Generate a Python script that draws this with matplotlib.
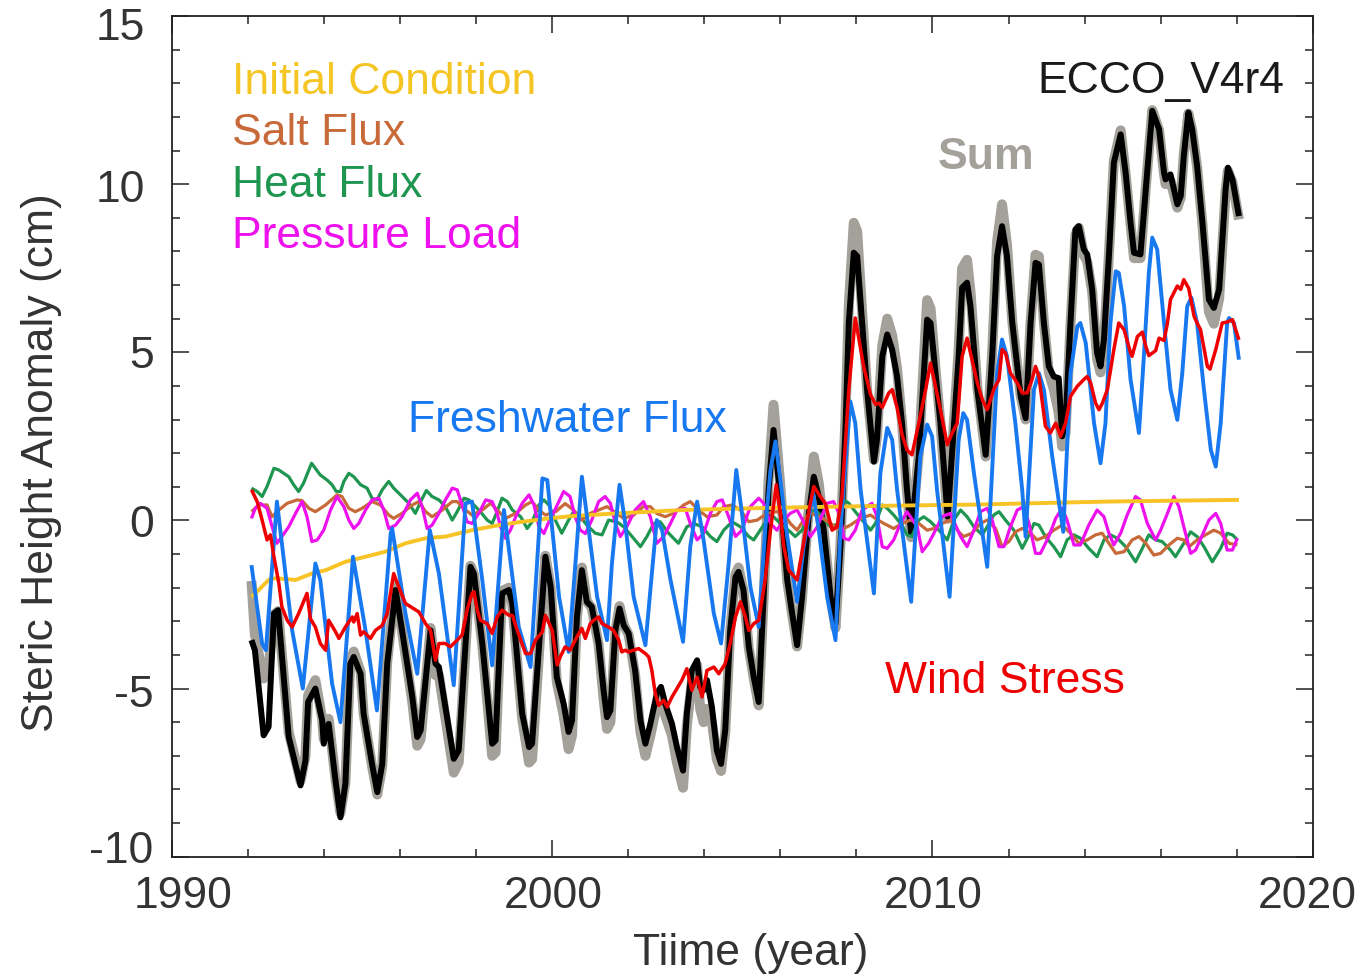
import matplotlib
matplotlib.use("Agg")
import matplotlib.pyplot as plt
from matplotlib.ticker import MultipleLocator

plt.rcParams['font.family'] = ['Liberation Sans', 'DejaVu Sans']
plt.rcParams['axes.unicode_minus'] = False

# ---------------- data (year, cm) ----------------
sum_years = [
    1992.09, 1992.18, 1992.41, 1992.54, 1992.68, 1992.79,
    1993.07, 1993.38, 1993.51, 1993.58, 1993.77, 1993.95, 1993.99,
    1994.12, 1994.30, 1994.43, 1994.56, 1994.69, 1994.78, 1994.96,
    1995.04, 1995.26, 1995.40, 1995.53, 1995.66, 1995.88,
    1996.05, 1996.32, 1996.45, 1996.54, 1996.80, 1996.93,
    1997.02, 1997.41, 1997.54, 1997.85, 1997.94,
    1998.16, 1998.42, 1998.51, 1998.68, 1998.86, 1998.95,
    1999.21, 1999.39, 1999.47, 1999.82, 1999.96,
    2000.12, 2000.30, 2000.43, 2000.52, 2000.65, 2000.78, 2000.91,
    2001.04, 2001.22, 2001.35, 2001.44, 2001.53, 2001.66, 2001.77, 2001.88,
    2002.01, 2002.18, 2002.32, 2002.45, 2002.58, 2002.75, 2002.86, 2002.97,
    2003.15, 2003.28, 2003.44, 2003.54, 2003.67, 2003.81, 2003.89, 2003.98,
    2004.07, 2004.20, 2004.33, 2004.44, 2004.55, 2004.68, 2004.82, 2004.90,
    2005.03, 2005.17, 2005.30, 2005.43, 2005.56, 2005.69, 2005.82,
    2006.00, 2006.18, 2006.31, 2006.44, 2006.57, 2006.75, 2006.88,
    2007.01, 2007.14, 2007.32, 2007.45, 2007.58, 2007.71, 2007.80, 2007.93,
    2008.02, 2008.15, 2008.28, 2008.46, 2008.54, 2008.68, 2008.81, 2008.94,
    2009.07, 2009.20, 2009.33, 2009.44, 2009.64, 2009.86, 2009.95,
    2010.08, 2010.21, 2010.40, 2010.69, 2010.78, 2010.91,
    2011.00, 2011.18, 2011.40, 2011.57, 2011.70, 2011.83, 2011.96,
    2012.10, 2012.32, 2012.45, 2012.58, 2012.71, 2012.80, 2012.93,
    2013.06, 2013.19, 2013.32, 2013.41, 2013.50, 2013.63, 2013.76, 2013.85, 2013.98,
    2014.07, 2014.20, 2014.33, 2014.42, 2014.51, 2014.64, 2014.77, 2014.95,
    2015.08, 2015.21, 2015.30, 2015.47, 2015.61, 2015.78, 2015.96,
    2016.09, 2016.13, 2016.26, 2016.44, 2016.53, 2016.61, 2016.73, 2016.83, 2016.96,
    2017.10, 2017.27, 2017.40, 2017.54, 2017.71, 2017.77, 2017.89,
    2018.06,
]
# ECCO total (black)
total_values = [
    -3.56, -3.86, -6.39, -6.14, -2.77, -2.67,
    -6.44, -7.88, -7.14, -5.40, -5.00, -5.95, -6.64,
    -6.05, -7.73, -8.83, -7.83, -4.26, -4.06, -4.56,
    -5.75, -7.24, -8.08, -7.24, -4.26, -2.07,
    -3.27, -5.25, -6.44, -6.24, -3.27, -4.26,
    -4.36, -7.09, -6.84, -1.38, -1.58,
    -3.66, -6.64, -6.54, -2.17, -2.07, -2.47,
    -5.75, -6.74, -6.64, -1.08, -1.97,
    -4.66, -5.45, -6.29, -5.95, -2.87, -1.48, -2.42,
    -2.57, -3.66, -5.05, -5.85, -5.65, -3.27, -2.62, -3.12,
    -3.36, -4.46, -5.95, -6.64, -6.05, -5.15, -4.95, -5.45,
    -6.05, -6.74, -7.44, -5.75, -4.46, -4.16, -4.95, -5.05,
    -4.75, -5.55, -6.84, -7.24, -6.24, -3.27, -1.68, -1.53,
    -2.07, -3.76, -4.66, -5.40, -2.27, 0.91, 2.69,
    0.71, -1.77, -2.77, -3.71, -2.27, 0.21, 1.30,
    0.71, -0.29, -2.27, -3.07, -0.78, 2.69, 5.87, 7.96,
    7.86, 5.87, 3.89, 1.75, 2.40, 4.88, 5.53, 5.08,
    4.28, 2.89, 0.91, -0.39, 1.90, 5.97, 5.87,
    4.38, 2.89, 0.11, 4.88, 6.92, 7.07,
    6.37, 3.89, 1.95, 4.88, 7.86, 8.75, 7.86,
    5.87, 3.69, 3.04, 5.87, 7.66, 7.61, 5.87,
    4.58, 4.28, 4.23, 2.50, 2.89, 5.87, 8.65, 8.75, 8.06,
    7.91, 6.87, 4.98, 4.58, 5.38, 7.86, 10.64, 11.48,
    10.34, 8.85, 7.96, 7.91, 9.85, 12.18, 11.63,
    10.34, 10.14, 10.29, 9.40, 9.65, 10.84, 12.13, 11.63, 10.54,
    8.85, 6.57, 6.32, 6.87, 9.85, 10.49, 10.14,
    9.05,
]
# Sum of contributions (gray)
sum_values = [
    -1.80, -3.40, -4.70, -4.40, -2.80, -2.70,
    -6.30, -7.75, -7.00, -5.20, -4.75, -5.90, -6.50,
    -5.90, -7.70, -8.70, -7.80, -4.10, -3.90, -4.50,
    -5.75, -7.30, -8.15, -7.30, -4.20, -1.90,
    -3.30, -5.40, -6.70, -6.50, -3.20, -4.60,
    -4.60, -7.50, -7.20, -1.35, -1.60,
    -3.70, -7.00, -6.90, -2.10, -2.00, -2.50,
    -5.90, -7.20, -7.10, -1.05, -2.00,
    -4.80, -5.80, -6.80, -6.40, -2.90, -1.40, -2.40,
    -2.60, -3.70, -5.30, -6.20, -6.00, -3.30, -2.55, -3.10,
    -3.40, -4.60, -6.30, -7.00, -6.40, -5.50, -5.20, -5.80,
    -6.40, -7.20, -7.95, -6.10, -4.80, -4.30, -5.60, -6.00,
    -5.60, -6.00, -7.10, -7.45, -6.30, -3.30, -1.60, -1.40,
    -2.10, -3.80, -4.70, -5.50, -2.30, 1.20, 3.44,
    1.00, -1.80, -2.80, -3.75, -2.30, 0.40, 1.90,
    1.10, -0.30, -2.30, -3.20, -0.70, 3.00, 6.40, 8.85,
    8.60, 6.20, 3.90, 1.80, 2.50, 5.20, 6.00, 5.50,
    4.50, 2.90, 0.85, -0.50, 2.00, 6.55, 6.30,
    4.50, 2.90, 0.05, 5.10, 7.50, 7.75,
    6.80, 3.95, 1.90, 5.00, 8.30, 9.40, 8.20,
    5.90, 3.70, 3.00, 5.90, 7.90, 7.85, 5.90,
    4.40, 3.90, 3.20, 2.20, 2.60, 5.80, 8.50, 8.70, 7.90,
    7.70, 6.80, 4.80, 4.40, 5.30, 7.90, 10.70, 11.60,
    10.30, 8.80, 7.80, 7.80, 9.90, 12.20, 11.60,
    10.30, 10.00, 10.10, 9.30, 9.60, 10.90, 12.10, 11.60, 10.50,
    8.80, 6.20, 5.85, 6.60, 9.80, 10.40, 10.05,
    8.95,
]

freshwater = [
    (1992.09, -1.33), (1992.37, -3.66), (1992.47, -3.86), (1992.76, 0.56),
    (1993.16, -3.27), (1993.44, -5.00), (1993.77, -1.28), (1993.90, -1.77),
    (1994.21, -4.85), (1994.43, -6.00), (1994.76, -1.08), (1995.09, -3.27),
    (1995.39, -5.65), (1995.75, -0.39), (1995.79, -0.24), (1996.14, -2.77),
    (1996.45, -4.56), (1996.78, -0.29), (1997.02, -1.58), (1997.41, -4.90),
    (1997.72, 0.51), (1997.89, 0.56), (1998.16, -1.77), (1998.42, -4.31),
    (1998.73, 0.31), (1999.12, -3.17), (1999.43, -4.36), (1999.74, 1.25),
    (1999.87, 1.20), (2000.18, -2.27), (2000.43, -3.91), (2000.61, -1.28),
    (2000.78, 1.30), (2000.96, -0.29), (2001.18, -2.27), (2001.44, -3.56),
    (2001.57, -1.28), (2001.77, 1.06), (2001.92, -0.09), (2002.14, -2.27),
    (2002.45, -3.71), (2002.62, -1.58), (2002.75, 0.01), (2002.89, -0.29),
    (2003.11, -1.77), (2003.44, -3.61), (2003.63, -0.78), (2003.81, 0.56),
    (2003.98, -0.58), (2004.25, -2.77), (2004.44, -3.66), (2004.64, -1.28),
    (2004.84, 1.50), (2004.99, 0.21), (2005.21, -1.97), (2005.43, -3.17),
    (2005.60, -0.29), (2005.74, 1.50), (2005.87, 2.35), (2006.00, 1.20),
    (2006.18, -0.48), (2006.44, -2.42), (2006.61, -0.78), (2006.86, 0.81),
    (2007.01, -0.29), (2007.23, -2.27), (2007.45, -3.56), (2007.58, -0.29),
    (2007.84, 3.54), (2007.97, 2.89), (2008.11, 0.91), (2008.46, -2.17),
    (2008.63, 1.41), (2008.81, 2.75), (2008.94, 2.40), (2009.07, 0.91),
    (2009.44, -2.42), (2009.68, 1.90), (2009.86, 2.85), (2009.99, 2.50),
    (2010.12, 0.91), (2010.45, -2.27), (2010.69, 2.40), (2010.81, 3.19),
    (2010.91, 2.99), (2011.09, 1.41), (2011.44, -1.38), (2011.70, 4.38),
    (2011.83, 5.38), (2011.96, 4.88), (2012.18, 2.89), (2012.36, 0.91),
    (2012.45, -0.49), (2012.67, 3.89), (2012.80, 4.38), (2012.93, 3.89),
    (2013.15, 1.90), (2013.44, -0.34), (2013.63, 4.38), (2013.81, 5.77),
    (2013.89, 5.87), (2014.03, 5.28), (2014.25, 2.89), (2014.42, 1.70),
    (2014.55, 2.89), (2014.68, 5.87), (2014.82, 7.41), (2014.90, 7.36),
    (2015.04, 6.37), (2015.21, 4.19), (2015.43, 2.60), (2015.56, 4.88),
    (2015.69, 7.36), (2015.78, 8.41), (2015.91, 8.06), (2016.09, 5.87),
    (2016.26, 3.89), (2016.44, 2.99), (2016.57, 4.38), (2016.70, 6.37),
    (2016.81, 6.62), (2016.96, 5.87), (2017.14, 3.89), (2017.32, 2.10),
    (2017.45, 1.60), (2017.58, 2.89), (2017.75, 5.87), (2017.80, 6.02),
    (2017.93, 5.87), (2018.06, 4.78),
]

wind = [
    (1992.09, 0.91), (1992.24, 0.56), (1992.37, 0.01), (1992.50, -0.58), (1992.59, -0.43),
    (1992.68, -1.08), (1992.81, -1.87), (1992.89, -2.57), (1993.03, -2.97), (1993.16, -3.17),
    (1993.33, -2.77), (1993.55, -2.17), (1993.64, -2.92), (1993.77, -3.17), (1993.90, -3.66),
    (1994.04, -3.86), (1994.12, -2.97), (1994.30, -3.31), (1994.39, -3.51), (1994.56, -3.17),
    (1994.74, -2.87), (1994.78, -3.02), (1994.87, -2.77), (1994.96, -3.41), (1995.04, -3.31),
    (1995.22, -3.51), (1995.35, -3.27), (1995.53, -3.12), (1995.66, -2.77), (1995.83, -1.58),
    (1995.96, -1.97), (1996.14, -2.47), (1996.49, -2.72), (1996.67, -3.07), (1996.80, -3.27),
    (1996.93, -4.16), (1997.02, -3.66), (1997.19, -3.66), (1997.32, -3.76), (1997.50, -3.56),
    (1997.63, -3.41), (1997.76, -2.67), (1997.89, -2.17), (1997.94, -2.12), (1998.03, -2.67),
    (1998.11, -2.97), (1998.29, -3.07), (1998.42, -3.36), (1998.55, -2.87), (1998.68, -2.67),
    (1998.86, -2.82), (1998.95, -2.82), (1999.08, -3.27), (1999.30, -3.96), (1999.43, -3.96),
    (1999.56, -3.56), (1999.74, -3.31), (1999.82, -2.82), (2000.00, -3.27), (2000.13, -4.30),
    (2000.21, -4.06), (2000.34, -3.76), (2000.47, -3.86), (2000.65, -3.46), (2000.78, -3.21),
    (2000.87, -3.51), (2001.00, -3.07), (2001.09, -2.97), (2001.22, -2.87), (2001.31, -3.07),
    (2001.48, -3.17), (2001.61, -3.27), (2001.75, -3.56), (2001.83, -3.91), (2001.92, -3.86),
    (2002.01, -3.91), (2002.14, -3.86), (2002.27, -3.81), (2002.45, -3.96), (2002.54, -4.06),
    (2002.62, -4.46), (2002.71, -5.15), (2002.80, -5.50), (2002.93, -5.35), (2003.02, -5.55),
    (2003.15, -5.25), (2003.28, -5.00), (2003.41, -4.75), (2003.54, -4.41), (2003.67, -5.05),
    (2003.81, -4.66), (2003.94, -5.25), (2004.07, -4.46), (2004.25, -4.36), (2004.38, -4.56),
    (2004.55, -4.26), (2004.68, -3.66), (2004.82, -2.87), (2004.95, -2.42), (2005.08, -2.87),
    (2005.17, -3.27), (2005.30, -3.07), (2005.43, -2.97), (2005.60, -1.77), (2005.74, -0.29),
    (2005.89, 1.06), (2006.00, 0.21), (2006.09, -0.78), (2006.22, -1.48), (2006.44, -1.77),
    (2006.61, -0.68), (2006.77, 0.41), (2006.88, 1.01), (2007.05, 0.71), (2007.18, 0.51),
    (2007.27, 0.11), (2007.36, -0.29), (2007.49, -0.19), (2007.62, 0.71), (2007.80, 3.89),
    (2007.97, 6.02), (2008.19, 4.58), (2008.37, 3.74), (2008.50, 3.45), (2008.59, 3.49),
    (2008.68, 3.36), (2008.85, 3.79), (2008.94, 3.89), (2009.07, 3.35), (2009.20, 2.55),
    (2009.33, 2.10), (2009.46, 1.95), (2009.64, 2.89), (2009.82, 3.89), (2009.95, 4.68),
    (2010.08, 3.99), (2010.21, 3.29), (2010.39, 2.25), (2010.52, 2.60), (2010.65, 2.89),
    (2010.78, 4.88), (2010.91, 5.42), (2011.00, 4.98), (2011.18, 4.09), (2011.31, 3.59),
    (2011.44, 3.29), (2011.61, 3.89), (2011.75, 4.19), (2011.83, 5.08), (2011.92, 4.98),
    (2012.05, 4.38), (2012.23, 4.09), (2012.36, 3.79), (2012.49, 3.79), (2012.62, 4.19),
    (2012.71, 4.58), (2012.80, 4.28), (2012.97, 2.80), (2013.10, 2.60), (2013.24, 2.89),
    (2013.37, 2.50), (2013.50, 2.89), (2013.63, 3.69), (2013.81, 3.99), (2013.98, 4.19),
    (2014.07, 4.28), (2014.16, 4.09), (2014.29, 3.49), (2014.38, 3.29), (2014.47, 3.49),
    (2014.60, 3.89), (2014.77, 5.08), (2014.90, 5.87), (2015.04, 5.67), (2015.21, 4.98),
    (2015.25, 4.88), (2015.39, 5.47), (2015.52, 5.60), (2015.61, 5.18), (2015.69, 4.90),
    (2015.87, 5.05), (2015.96, 5.42), (2016.09, 5.35), (2016.18, 5.87), (2016.26, 6.57),
    (2016.44, 6.97), (2016.53, 6.87), (2016.61, 7.16), (2016.74, 6.90), (2016.88, 6.07),
    (2016.96, 5.87), (2017.05, 5.67), (2017.23, 4.58), (2017.30, 4.50), (2017.45, 5.08),
    (2017.62, 5.87), (2017.75, 5.90), (2017.89, 5.97), (2018.06, 5.37),
]

initial = [
    (1992.09, -2.27), (1992.28, -2.07), (1992.54, -1.77), (1992.72, -1.72), (1993.25, -1.77),
    (1993.68, -1.58), (1994.04, -1.48), (1994.56, -1.23), (1995.26, -1.03), (1995.61, -0.93),
    (1996.14, -0.68), (1996.67, -0.53), (1997.19, -0.48), (1997.89, -0.29), (1998.60, -0.14),
    (1999.21, -0.04), (1999.91, 0.06), (2000.53, 0.13), (2001.70, 0.21), (2003.46, 0.31),
    (2005.21, 0.36), (2007.00, 0.40), (2009.00, 0.44), (2011.09, 0.47), (2013.00, 0.52),
    (2014.60, 0.56), (2016.50, 0.59), (2018.06, 0.61),
]

heat = [
    (1992.09, 0.96), (1992.24, 0.86), (1992.37, 0.71), (1992.50, 1.01), (1992.68, 1.55),
    (1992.81, 1.50), (1992.94, 1.40), (1993.07, 1.30), (1993.20, 1.06), (1993.33, 0.86),
    (1993.46, 1.11), (1993.67, 1.70), (1993.77, 1.55), (1993.90, 1.35), (1994.08, 1.20),
    (1994.21, 1.06), (1994.32, 0.86), (1994.43, 0.86), (1994.52, 1.16), (1994.65, 1.40),
    (1994.78, 1.30), (1994.96, 1.06), (1995.13, 0.96), (1995.26, 0.66), (1995.39, 0.61),
    (1995.53, 0.91), (1995.70, 1.16), (1995.83, 0.96), (1996.01, 0.76), (1996.23, 0.51),
    (1996.40, 0.21), (1996.54, 0.56), (1996.69, 0.89), (1996.84, 0.71), (1997.02, 0.61),
    (1997.19, 0.41), (1997.37, 0.01), (1997.50, 0.26), (1997.68, 0.66), (1997.81, 0.61),
    (1997.94, 0.46), (1998.11, 0.26), (1998.29, 0.01), (1998.42, -0.09), (1998.55, 0.26),
    (1998.68, 0.66), (1998.82, 0.56), (1998.95, 0.31), (1999.17, 0.11), (1999.34, -0.24),
    (1999.47, -0.04), (1999.65, 0.46), (1999.78, 0.61), (1999.91, 0.46), (2000.08, 0.01),
    (2000.25, -0.38), (2000.43, 0.01), (2000.56, 0.26), (2000.74, 0.11), (2000.91, -0.14),
    (2001.13, -0.38), (2001.31, -0.43), (2001.48, 0.01), (2001.70, -0.04), (2001.88, -0.19),
    (2002.10, -0.48), (2002.32, -0.78), (2002.49, -0.48), (2002.67, -0.09), (2002.84, -0.04),
    (2003.06, -0.38), (2003.32, -0.68), (2003.54, -0.19), (2003.72, -0.09), (2003.94, -0.19),
    (2004.16, -0.48), (2004.33, -0.63), (2004.51, -0.29), (2004.73, -0.04), (2004.95, -0.19),
    (2005.17, -0.48), (2005.30, -0.58), (2005.47, -0.29), (2005.65, 0.01), (2005.82, 0.11),
    (2006.04, -0.14), (2006.26, -0.34), (2006.39, -0.48), (2006.57, -0.29), (2006.75, 0.21),
    (2006.92, 0.31), (2007.10, 0.11), (2007.32, -0.19), (2007.54, -0.09), (2007.67, 0.61),
    (2007.80, 0.51), (2007.97, 0.26), (2008.15, 0.01), (2008.37, -0.29), (2008.50, -0.09),
    (2008.68, 0.46), (2008.81, 0.36), (2008.98, 0.16), (2009.20, -0.14), (2009.33, -0.43),
    (2009.46, -0.48), (2009.64, 0.01), (2009.77, 0.11), (2009.95, -0.04), (2010.17, -0.29),
    (2010.39, -0.58), (2010.56, 0.01), (2010.74, 0.31), (2010.91, 0.11), (2011.09, -0.19),
    (2011.31, -0.43), (2011.44, -0.19), (2011.61, 0.16), (2011.75, 0.26), (2011.92, 0.01),
    (2012.14, -0.29), (2012.36, -0.83), (2012.54, -0.43), (2012.67, -0.09), (2012.80, -0.14),
    (2012.97, -0.48), (2013.19, -0.78), (2013.37, -1.08), (2013.54, -0.58), (2013.72, -0.43),
    (2013.89, -0.53), (2014.11, -0.83), (2014.33, -1.08), (2014.51, -0.58), (2014.68, -0.43),
    (2014.86, -0.53), (2015.08, -0.78), (2015.34, -1.23), (2015.52, -0.83), (2015.69, -0.43),
    (2015.87, -0.58), (2016.04, -0.63), (2016.26, -0.88), (2016.39, -1.08), (2016.61, -0.68),
    (2016.79, -0.34), (2016.96, -0.48), (2017.14, -0.78), (2017.36, -1.23), (2017.58, -0.83),
    (2017.75, -0.38), (2017.89, -0.43), (2018.02, -0.58),
]

salt = [
    (1992.09, 0.26), (1992.28, 0.46), (1992.50, 0.46), (1992.63, 0.11), (1992.81, 0.31),
    (1993.03, 0.51), (1993.29, 0.61), (1993.42, 0.59), (1993.60, 0.36), (1993.77, 0.26),
    (1994.04, 0.46), (1994.34, 0.76), (1994.47, 0.71), (1994.65, 0.36), (1994.82, 0.26),
    (1995.00, 0.36), (1995.26, 0.56), (1995.48, 0.46), (1995.70, 0.16), (1995.83, 0.06),
    (1996.05, 0.21), (1996.32, 0.46), (1996.49, 0.56), (1996.67, 0.26), (1996.84, 0.11),
    (1997.11, 0.31), (1997.37, 0.56), (1997.50, 0.56), (1997.72, 0.31), (1997.89, 0.16),
    (1998.16, 0.31), (1998.38, 0.51), (1998.55, 0.31), (1998.77, 0.06), (1999.04, 0.21),
    (1999.30, 0.46), (1999.47, 0.56), (1999.65, 0.31), (1999.82, 0.16), (2000.09, 0.26),
    (2000.34, 0.50), (2000.56, 0.31), (2000.78, 0.01), (2001.00, 0.21), (2001.22, 0.31),
    (2001.44, 0.41), (2001.70, 0.21), (2001.88, 0.06), (2002.14, 0.16), (2002.40, 0.41),
    (2002.58, 0.41), (2002.75, 0.21), (2002.97, 0.11), (2003.19, 0.21), (2003.46, 0.46),
    (2003.63, 0.56), (2003.85, 0.31), (2004.07, 0.11), (2004.33, 0.16), (2004.51, 0.41),
    (2004.73, 0.46), (2004.95, 0.31), (2005.17, -0.04), (2005.39, 0.01), (2005.65, 0.21),
    (2005.91, 0.26), (2006.09, 0.21), (2006.26, -0.09), (2006.44, -0.29), (2006.61, 0.01),
    (2006.79, 0.21), (2007.05, 0.11), (2007.32, -0.09), (2007.58, -0.29), (2007.84, -0.14),
    (2008.10, 0.06), (2008.37, 0.16), (2008.50, 0.06), (2008.72, -0.09), (2008.98, -0.24),
    (2009.20, -0.09), (2009.42, 0.01), (2009.64, -0.09), (2009.86, -0.29), (2010.04, -0.24),
    (2010.25, -0.09), (2010.47, 0.01), (2010.69, -0.34), (2010.82, -0.48), (2011.04, -0.38),
    (2011.26, -0.09), (2011.44, 0.01), (2011.66, -0.24), (2011.83, -0.78), (2012.01, -0.63),
    (2012.18, -0.34), (2012.36, -0.24), (2012.58, -0.38), (2012.75, -0.58), (2012.97, -0.48),
    (2013.19, -0.29), (2013.41, -0.14), (2013.63, -0.38), (2013.85, -0.68), (2014.07, -0.58),
    (2014.29, -0.43), (2014.46, -0.38), (2014.64, -0.68), (2014.82, -0.98), (2015.04, -0.93),
    (2015.25, -0.58), (2015.43, -0.48), (2015.61, -0.68), (2015.82, -1.03), (2016.00, -0.98),
    (2016.22, -0.73), (2016.44, -0.53), (2016.61, -0.58), (2016.75, -0.78), (2016.96, -0.58),
    (2017.18, -0.43), (2017.40, -0.29), (2017.58, -0.38), (2017.80, -0.68), (2018.02, -0.73),
]

pressure = [
    (1992.09, 0.06), (1992.19, 0.36), (1992.32, 0.51), (1992.50, 0.36), (1992.63, -0.18),
    (1992.76, -0.68), (1992.89, -0.48), (1993.07, -0.19), (1993.25, 0.21), (1993.42, 0.56),
    (1993.55, 0.11), (1993.68, -0.63), (1993.82, -0.58), (1993.99, -0.29), (1994.17, 0.31),
    (1994.34, 0.71), (1994.52, 0.41), (1994.65, 0.01), (1994.78, -0.24), (1994.91, -0.09),
    (1995.09, 0.31), (1995.26, 0.61), (1995.44, 0.66), (1995.57, 0.31), (1995.70, -0.24),
    (1995.88, -0.14), (1996.05, 0.11), (1996.27, 0.61), (1996.45, 0.81), (1996.58, 0.41),
    (1996.71, -0.24), (1996.84, -0.14), (1997.02, 0.21), (1997.19, 0.61), (1997.37, 0.96),
    (1997.50, 0.91), (1997.63, 0.46), (1997.76, -0.04), (1997.89, -0.09), (1998.07, 0.21),
    (1998.25, 0.61), (1998.42, 0.56), (1998.55, 0.21), (1998.64, -0.19), (1998.77, -0.53),
    (1998.90, -0.29), (1999.04, 0.11), (1999.21, 0.51), (1999.39, 0.76), (1999.52, 0.46),
    (1999.65, -0.19), (1999.78, -0.39), (1999.91, -0.04), (2000.09, 0.36), (2000.30, 0.86),
    (2000.47, 0.71), (2000.60, 0.11), (2000.74, -0.29), (2000.87, -0.39), (2001.04, 0.01),
    (2001.22, 0.56), (2001.39, 0.71), (2001.53, 0.51), (2001.66, -0.09), (2001.79, -0.48),
    (2001.96, -0.19), (2002.18, 0.31), (2002.40, 0.56), (2002.58, 0.11), (2002.75, -0.68),
    (2002.93, -0.48), (2003.11, -0.09), (2003.28, 0.31), (2003.50, 0.36), (2003.63, -0.09),
    (2003.81, -0.58), (2003.98, -0.39), (2004.16, 0.21), (2004.33, 0.56), (2004.47, 0.61),
    (2004.64, 0.11), (2004.82, -0.48), (2004.99, -0.29), (2005.21, 0.41), (2005.43, 0.66),
    (2005.56, 0.51), (2005.74, -0.09), (2005.91, -0.29), (2006.09, 0.01), (2006.26, 0.21),
    (2006.44, 0.31), (2006.61, -0.04), (2006.79, -0.48), (2006.97, -0.19), (2007.23, 0.51),
    (2007.40, 0.56), (2007.58, 0.11), (2007.67, -0.53), (2007.80, -0.58), (2007.97, -0.29),
    (2008.15, 0.31), (2008.41, 0.51), (2008.54, 0.11), (2008.68, -0.78), (2008.81, -0.83),
    (2008.98, -0.58), (2009.16, -0.09), (2009.33, 0.26), (2009.60, -0.19), (2009.73, -0.93),
    (2009.90, -0.68), (2010.08, -0.29), (2010.25, 0.11), (2010.47, 0.21), (2010.74, -0.48),
    (2010.91, -0.78), (2011.09, -0.29), (2011.26, 0.26), (2011.44, 0.36), (2011.57, 0.01),
    (2011.75, -0.78), (2011.88, -0.78), (2012.05, -0.19), (2012.23, 0.31), (2012.40, 0.41),
    (2012.54, -0.09), (2012.71, -0.98), (2012.84, -0.98), (2013.06, -0.48), (2013.24, 0.06),
    (2013.41, 0.36), (2013.54, 0.01), (2013.72, -0.73), (2013.89, -0.73), (2014.11, -0.14),
    (2014.33, 0.31), (2014.51, 0.11), (2014.64, -0.38), (2014.77, -0.73), (2014.95, -0.38),
    (2015.12, 0.16), (2015.34, 0.71), (2015.47, 0.61), (2015.65, -0.09), (2015.87, -0.58),
    (2016.00, -0.29), (2016.18, 0.21), (2016.35, 0.71), (2016.48, 0.41), (2016.61, -0.19),
    (2016.79, -0.98), (2016.92, -0.88), (2017.10, -0.43), (2017.27, 0.01), (2017.45, 0.21),
    (2017.58, -0.09), (2017.75, -0.88), (2017.89, -0.88), (2018.02, -0.53),
]

x_tick_values = [1990, 2000, 2010, 2020]
y_tick_values = [15, 10, 5, 0, -5, -10]

# ---------------- figure ----------------
W, H = 1364, 975
fig = plt.figure(figsize=(W / 100, H / 100), dpi=100)
ax = fig.add_axes([172 / W, 1 - 856.7 / H, (1312.7 - 172) / W, (856.7 - 16) / H])

def xy(pairs):
    xs, ys = zip(*pairs)
    return list(xs), list(ys)

line_kw = dict(solid_joinstyle='round', solid_capstyle='butt')
ax.plot(sum_years, sum_values, color='#A3A19A', lw=7.2, zorder=2, **line_kw)
ax.plot(sum_years, total_values, color='black', lw=4.3, zorder=3, **line_kw)

comp_lw = 2.3
ax.plot(*xy(heat), color='#1E9650', lw=comp_lw, zorder=4, **line_kw)
ax.plot(*xy(salt), color='#C8693A', lw=comp_lw, zorder=4, **line_kw)
ax.plot(*xy(pressure), color='#EE11EE', lw=comp_lw, zorder=4, **line_kw)
ax.plot(*xy(initial), color='#F7C325', lw=2.8, zorder=4, **line_kw)
ax.plot(*xy(freshwater), color='#1778F0', lw=2.8, zorder=5, **line_kw)
ax.plot(*xy(wind), color='#EE0000', lw=2.5, zorder=6, **line_kw)

ax.set_xlim(1990, 2020)
ax.set_ylim(-10, 15)
ax.set_xticks(x_tick_values)
ax.set_yticks(y_tick_values)
ax.xaxis.set_minor_locator(MultipleLocator(2))
ax.yaxis.set_minor_locator(MultipleLocator(1))
ax.tick_params(which='both', direction='in', top=True, right=True, color='#222222',
               labelbottom=False, labelleft=False)
ax.tick_params(which='major', length=12, width=1.1)
ax.tick_params(which='minor', length=6, width=1.1)
for s in ax.spines.values():
    s.set_linewidth(1.3)
    s.set_color('#222222')

fs = 32
label_color = '#333333'
# tick labels placed where the reference draws them (pixel layout)
x_label_px = [183, 553, 933, 1307]
for v, px in zip(x_tick_values, x_label_px):
    fig.text(px / W, 1 - 908 / H, f'{v}', fontsize=fs, color=label_color,
             ha='center', va='baseline')
y_label_right_px = [145, 145, 154, 154, 154, 153]
y_label_base_px = [40, 202, 368, 537, 707, 863]
for v, rx, by in zip(y_tick_values, y_label_right_px, y_label_base_px):
    fig.text(rx / W, 1 - by / H, f'{v}', fontsize=fs, color=label_color,
             ha='right', va='baseline')

ax.text(1991.58, 12.68, 'Initial Condition', color='#F5C523', fontsize=fs)
ax.text(1991.58, 11.16, 'Salt Flux', color='#C8693A', fontsize=fs)
ax.text(1991.58, 9.61, 'Heat Flux', color='#1E9650', fontsize=fs)
ax.text(1991.58, 8.09, 'Pressure Load', color='#EE11EE', fontsize=fs)
ax.text(2019.24, 12.71, 'ECCO_V4r4', color='#1a1a1a', fontsize=fs, ha='right')
ax.text(2010.13, 10.44, 'Sum', color='#A3A19A', fontsize=fs, fontweight='bold')
ax.text(1996.21, 2.63, 'Freshwater Flux', color='#1778F0', fontsize=fs)
ax.text(2008.76, -5.14, 'Wind Stress', color='#EE0000', fontsize=fs)

fig.text(751 / W, 1 - 965 / H, 'Tiime (year)', fontsize=fs, color=label_color,
         ha='center', va='baseline')
fig.text(42 / W, 1 - 463 / H, 'Steric Height Anomaly (cm)', fontsize=fs, color=label_color,
         rotation=90, ha='center', va='center')

fig.savefig('out.png', dpi=100)
